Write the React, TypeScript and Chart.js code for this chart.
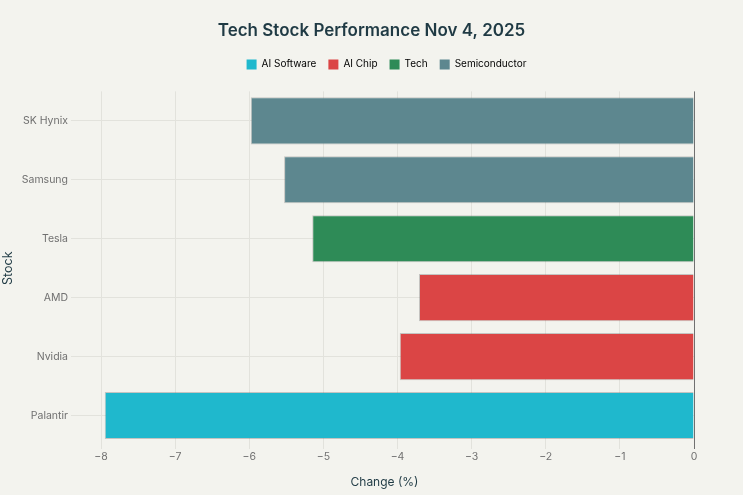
import React, { useEffect, useRef } from 'react';
import { Chart, registerables } from 'chart.js';

Chart.register(...registerables);

const categories = ['SK Hynix', 'Samsung', 'Tesla', 'AMD', 'Nvidia', 'Palantir'];
const changes = [-5.98, -5.53, -5.15, -3.71, -3.97, -7.95];
const sectors = ['Semiconductor', 'Semiconductor', 'Tech', 'AI Chip', 'AI Chip', 'AI Software'];
const legendOrder = ['AI Software', 'AI Chip', 'Tech', 'Semiconductor'];
const sectorColors = ['#1FB8CD', '#DB4545', '#2E8B57', '#5D878F'];

const FONT = 'Inter, "Open Sans", sans-serif';
const DARK = '#1F3A44';
const GRID = '#E2E2DC';

const colorOf = (s: string) => sectorColors[legendOrder.indexOf(s)];

const tweaks = {
  id: 'tweaks',
  beforeLayout(chart: any) {
    const lg = chart.legend;
    if (lg && !lg._patched) {
      const f = lg.fit;
      lg.fit = function () {
        f.call(this);
        this.height += 12;
      };
      const d = lg.draw;
      lg.draw = function () {
        const ctx = this.ctx;
        ctx.save();
        ctx.translate(15, 0);
        d.call(this);
        ctx.restore();
      };
      lg._patched = true;
    }
    const xs = chart.scales && chart.scales.x;
    if (xs && !xs._patched) {
      const dt = xs.drawTitle;
      xs.drawTitle = function (...args: any[]) {
        const ctx = this.ctx;
        ctx.save();
        ctx.translate(-13, 0);
        dt.apply(this, args);
        ctx.restore();
      };
      xs._patched = true;
    }
  },
};

export default function App() {
  const ref = useRef<HTMLCanvasElement>(null);
  useEffect(() => {
    const chart = new Chart(ref.current!, {
      type: 'bar',
      data: {
        labels: categories,
        datasets: [
          {
            label: 'Change',
            data: changes,
            backgroundColor: sectors.map(colorOf),
            borderColor: 'rgba(90,90,90,0.3)',
            borderWidth: 1,
            borderSkipped: 'start',
            barPercentage: 0.8,
            categoryPercentage: 1,
          },
        ],
      },
      options: {
        indexAxis: 'y',
        animation: false,
        responsive: true,
        maintainAspectRatio: false,
        layout: { padding: 0 },
        plugins: {
          title: {
            display: true,
            text: 'Tech Stock Performance Nov 4, 2025',
            color: DARK,
            font: { family: FONT, size: 17, weight: '600' },
            padding: { top: 21, bottom: 6 },
          },
          legend: {
            display: true,
            labels: {
              boxWidth: 10,
              boxHeight: 10,
              padding: 12,
              color: DARK,
              font: { family: FONT, size: 10 },
              generateLabels: () =>
                legendOrder.map((s, i) => ({
                  text: s,
                  fillStyle: sectorColors[i],
                  strokeStyle: sectorColors[i],
                  lineWidth: 0,
                  hidden: false,
                  datasetIndex: 0,
                })),
            },
            onClick: () => {},
          },
          tooltip: { enabled: false },
        },
        scales: {
          x: {
            type: 'linear',
            position: 'bottom',
            min: -8,
            max: 0,
            afterFit: (s: any) => {
              s.height = 50;
            },
            ticks: {
              stepSize: 1,
              color: '#707070',
              font: { family: FONT, size: 10.5 },
              padding: 2,
              callback: (v: any) => (Number(v) < 0 ? '\u2212' + Math.abs(Number(v)) : String(v)),
            },
            grid: {
              color: (c: any) => (c.tick && c.tick.value === 0 ? '#707070' : GRID),
              tickLength: 4,
            },
            border: { display: false },
            title: {
              display: true,
              text: 'Change (%)',
              color: DARK,
              font: { family: FONT, size: 12 },
              padding: { top: 4, bottom: 5 },
            },
          },
          y: {
            type: 'category',
            position: 'left',
            afterFit: (s: any) => {
              s.width = 101;
            },
            ticks: {
              color: '#707070',
              font: { family: FONT, size: 10.5 },
              padding: 3,
            },
            grid: { color: GRID, tickLength: 30, offset: false },
            border: { display: false },
            title: {
              display: true,
              text: 'Stock',
              color: DARK,
              font: { family: FONT, size: 12.5 },
              padding: { top: 1, bottom: 0 },
            },
          },
          yRight: {
            type: 'linear',
            position: 'right',
            display: true,
            afterFit: (s: any) => {
              s.width = 49;
            },
            ticks: { display: false },
            grid: { display: false },
            border: { display: false },
          },
        },
      } as any,
      plugins: [tweaks],
    });
    return () => chart.destroy();
  }, []);
  return (
    <div style={{ position: 'fixed', left: 0, top: 0, width: 743, height: 495, background: '#F3F3EE' }}>
      <canvas ref={ref} />
    </div>
  );
}
